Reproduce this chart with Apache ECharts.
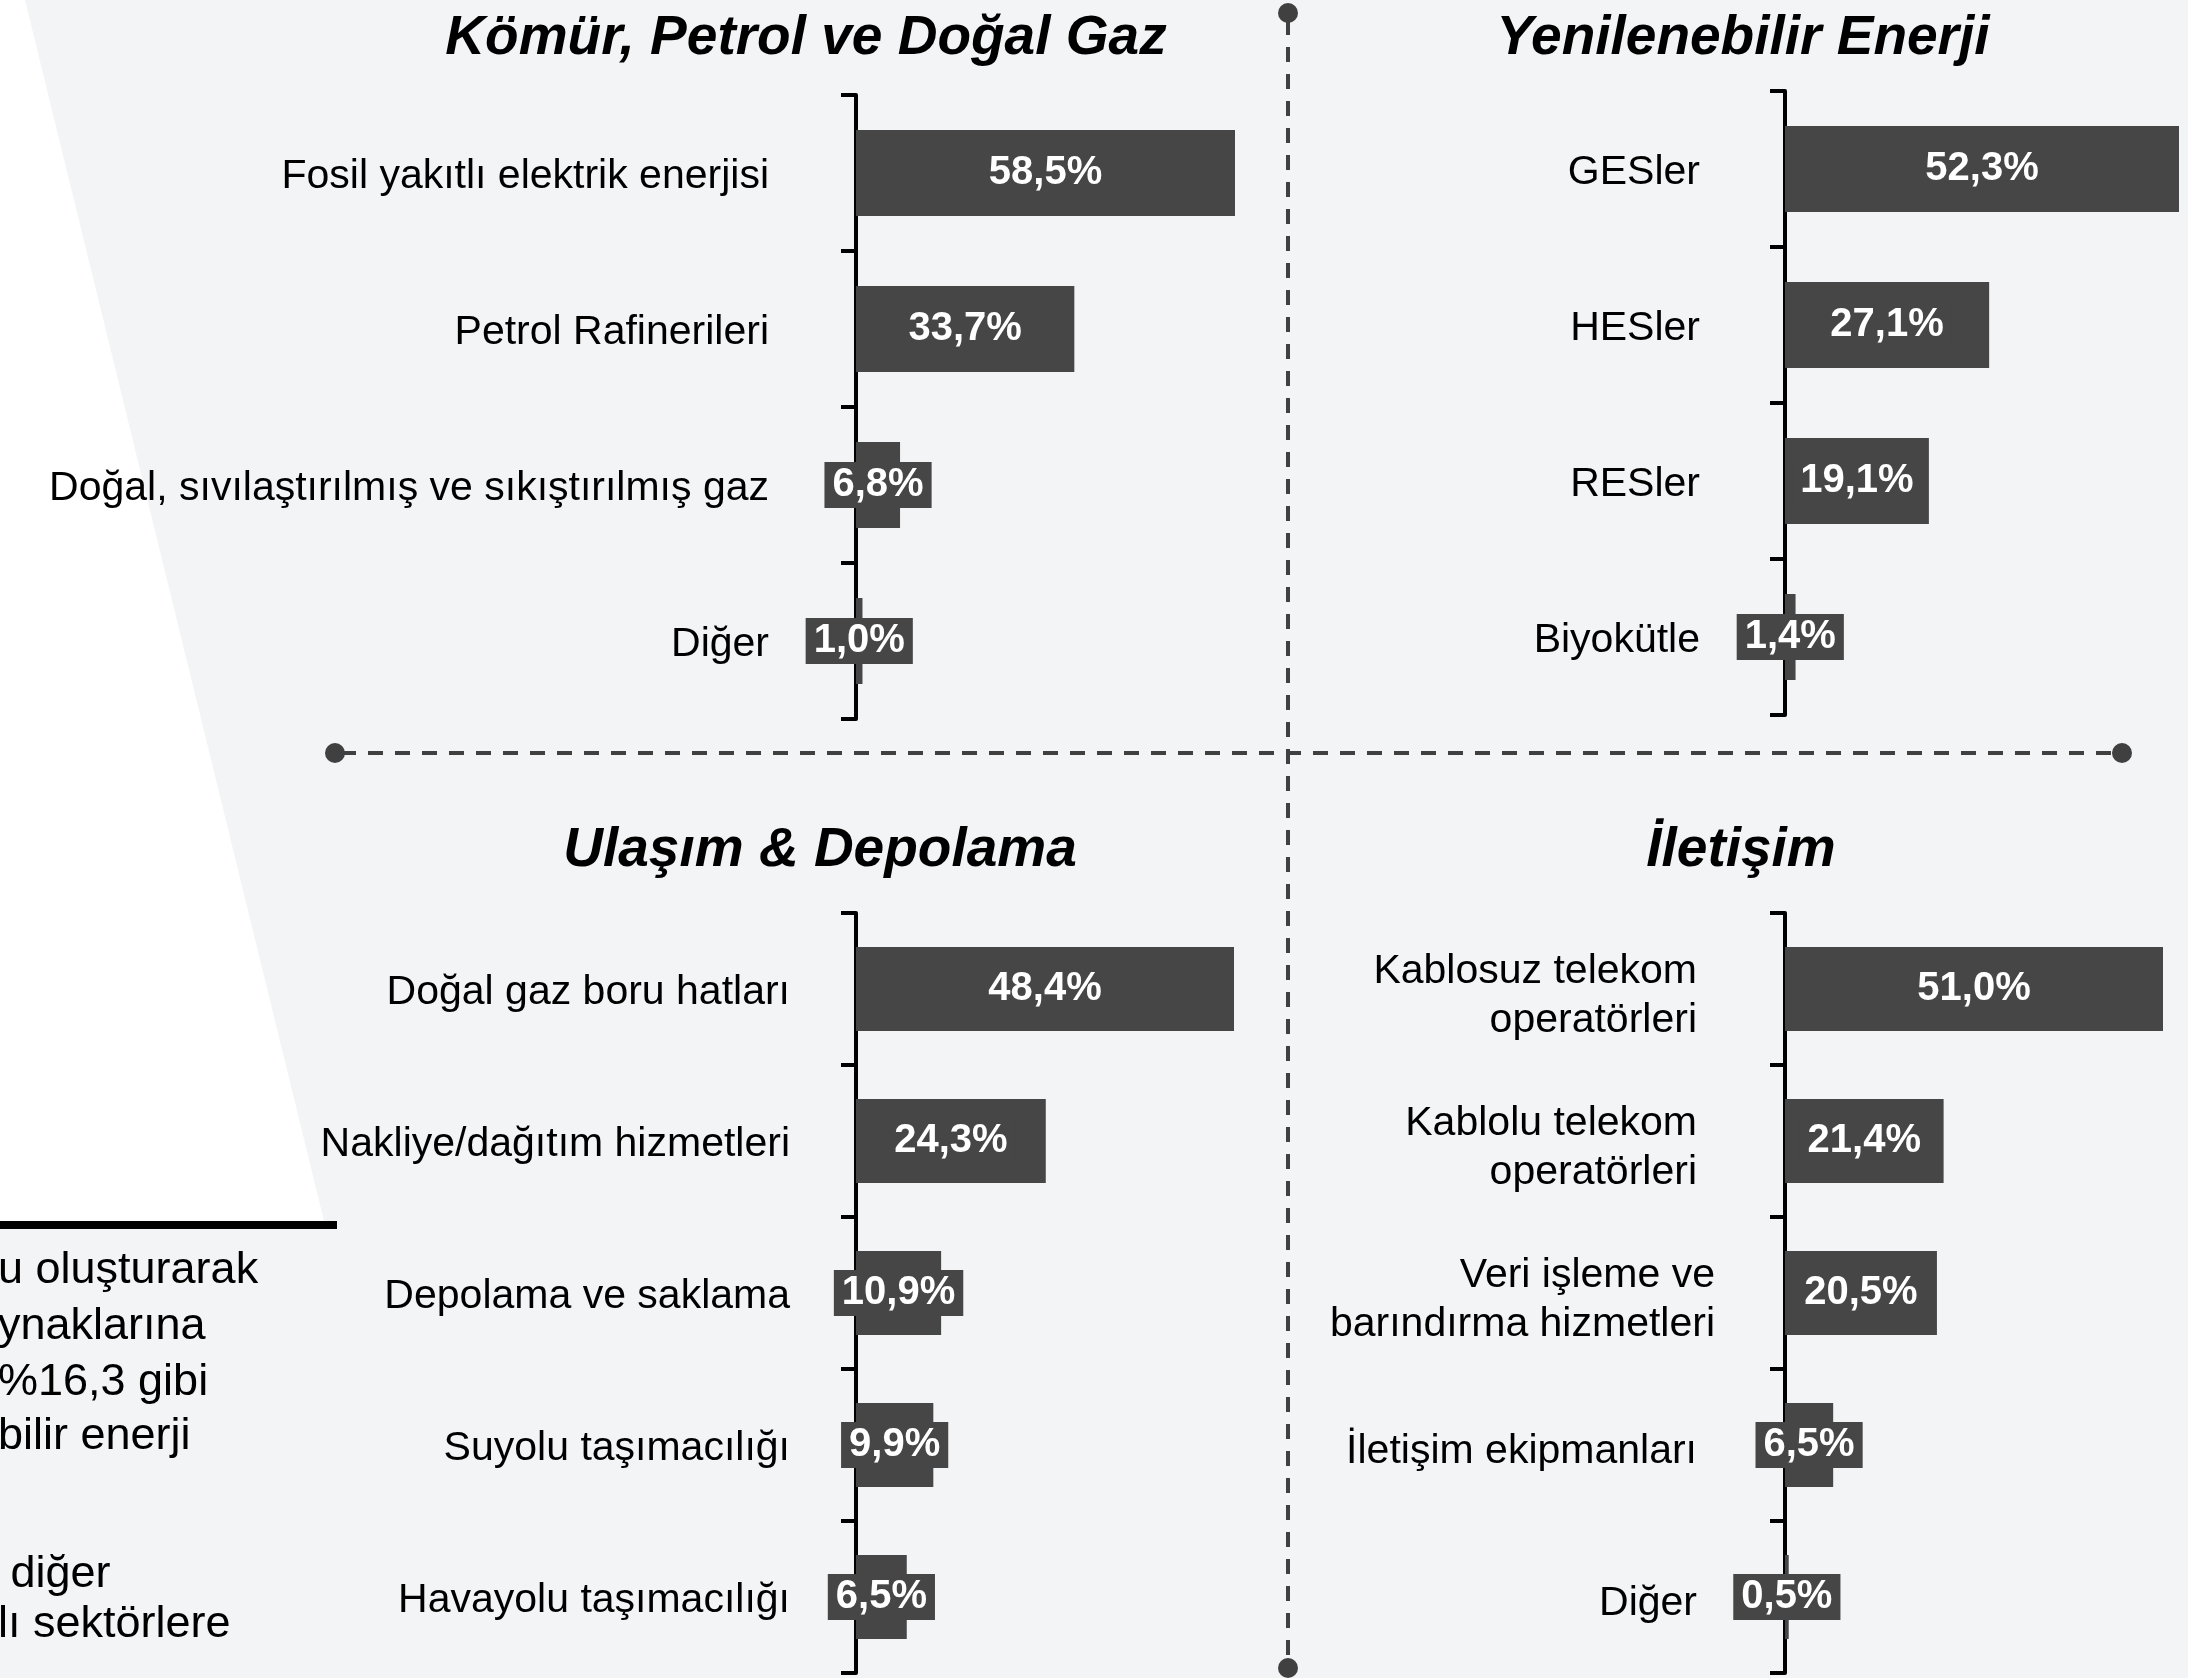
<!DOCTYPE html>
<html>
<head>
<meta charset="utf-8">
<script src="https://cdn.jsdelivr.net/npm/echarts@6/dist/echarts.min.js"></script>
<style>
  html, body { margin: 0; padding: 0; background: #f3f4f6; }
  #chart { width: 2188px; height: 1678px; }
</style>
</head>
<body>
<div id="chart"></div>
<script>
// panel data
const fossilCats = ['Fosil yakıtlı elektrik enerjisi', 'Petrol Rafinerileri', 'Doğal, sıvılaştırılmış ve sıkıştırılmış gaz', 'Diğer']
const fossilVals = [58.5, 33.7, 6.8, 1.0]

const renewCats = ['GESler', 'HESler', 'RESler', 'Biyokütle']
const renewVals = [52.3, 27.1, 19.1, 1.4]

const transCats = ['Doğal gaz boru hatları', 'Nakliye/dağıtım hizmetleri', 'Depolama ve saklama', 'Suyolu taşımacılığı', 'Havayolu taşımacılığı']
const transVals = [48.4, 24.3, 10.9, 9.9, 6.5]

const commCats = ['Kablosuz telekom\noperatörleri', 'Kablolu telekom\noperatörleri', 'Veri işleme ve\nbarındırma hizmetleri', 'İletişim ekipmanları', 'Diğer']
const commVals = [51.0, 21.4, 20.5, 6.5, 0.5]

const panelTitles = ['Kömür, Petrol ve Doğal Gaz', 'Yenilenebilir Enerji', 'Ulaşım & Depolama', 'İletişim']

const sideText = ['u oluşturarak', 'ynaklarına', '%16,3 gibi', 'bilir enerji', ' diğer', 'lı sektörlere']

const FONT = '"Liberation Sans", Arial, Helvetica, sans-serif'
const BAR = '#464646'
const DASH = '#404040'

const chart = echarts.init(document.getElementById('chart'))

// one grid per quadrant
const grids = [
  { left: 856, top: 95, width: 379, height: 624 },
  { left: 1785, top: 91, width: 394, height: 624 },
  { left: 856, top: 913, width: 378, height: 760 },
  { left: 1785, top: 913, width: 378, height: 760 }
]
const margins = [87, 85, 66, 70]
const allCats = [fossilCats, renewCats, transCats, commCats]
const allVals = [fossilVals, renewVals, transVals, commVals]
const barWidths = [86, 86, 84, 84]

const fmt = v => v.toFixed(1).replace('.', ',') + '%'

const yAxes = allCats.map((cats, i) => ({
  type: 'category',
  gridIndex: i,
  data: cats,
  inverse: true,
  axisLine: { lineStyle: { color: '#000', width: 4 } },
  axisTick: { show: true, length: 15, lineStyle: { color: '#000', width: 4 } },
  axisLabel: {
    margin: margins[i],
    padding: i === 3 ? [14, 0, 0, 0] : [8, 0, 0, 0],
    formatter: (val, idx) => {
      // last panel: all but the "Veri işleme" label sit a bit further left
      const key = (i === 3 && idx !== 2) ? 'n' : 'v'
      return val.split('\n').map(l => '{' + key + '|' + l + '}').join('\n')
    },
    rich: {
      n: { fontSize: 41, fontFamily: FONT, color: '#000', lineHeight: 49, padding: [0, 18, 0, 0] },
      v: { fontSize: 41, fontFamily: FONT, color: '#000', lineHeight: 49 }
    }
  }
}))

const xAxes = allVals.map((vals, i) => ({
  type: 'value',
  gridIndex: i,
  min: 0,
  max: Math.max(...vals),
  show: false,
  splitLine: { show: false }
}))

const series = allVals.map((vals, i) => ({
  type: 'bar',
  xAxisIndex: i,
  yAxisIndex: i,
  data: vals,
  barWidth: barWidths[i],
  itemStyle: { color: BAR },
  label: {
    show: true,
    position: 'inside',
    formatter: p => fmt(p.value),
    color: '#fff',
    fontWeight: 'bold',
    fontSize: 40,
    fontFamily: FONT,
    backgroundColor: BAR,
    lineHeight: 40,
    padding: [5, 8, 1, 8]
  },
  animation: false
}))

const titlePos = [[801, 38], [1738, 38], [815, 850], [1736, 850]]
const titles = panelTitles.map((t, i) => ({
  text: t,
  left: titlePos[i][0],
  top: titlePos[i][1] - 32,
  textAlign: 'center',
  textStyle: { fontSize: 55, fontWeight: 'bold', fontStyle: 'italic', fontFamily: FONT, color: '#000' }
}))

const sideY = [1271, 1327, 1383, 1437, 1575, 1625]
const graphics = [
  { type: 'polygon', z: -10, shape: { points: [[0, 0], [25, 0], [325, 1225], [0, 1225]] }, style: { fill: '#fff' } },
  { type: 'rect', shape: { x: 0, y: 1221, width: 337, height: 8 }, style: { fill: '#000' } },
  { type: 'line', shape: { x1: 1288, y1: 20, x2: 1288, y2: 1662 }, style: { stroke: DASH, lineWidth: 4, lineDash: [15, 12] } },
  { type: 'line', shape: { x1: 341, y1: 753, x2: 2116, y2: 753 }, style: { stroke: DASH, lineWidth: 4, lineDash: [15, 12] } },
  { type: 'circle', shape: { cx: 1288, cy: 13, r: 10 }, style: { fill: DASH } },
  { type: 'circle', shape: { cx: 1288, cy: 1668, r: 10 }, style: { fill: DASH } },
  { type: 'circle', shape: { cx: 335, cy: 753, r: 10 }, style: { fill: DASH } },
  { type: 'circle', shape: { cx: 2122, cy: 753, r: 10 }, style: { fill: DASH } }
].concat(sideText.map((t, i) => ({
  type: 'text',
  x: -2,
  y: sideY[i],
  style: { text: t, font: '45px ' + FONT, fill: '#000', textAlign: 'left', textVerticalAlign: 'middle' }
})))

chart.setOption({
  backgroundColor: '#f3f4f6',
  animation: false,
  title: titles,
  grid: grids,
  xAxis: xAxes,
  yAxis: yAxes,
  series: series,
  graphic: graphics
})
</script>
</body>
</html>
